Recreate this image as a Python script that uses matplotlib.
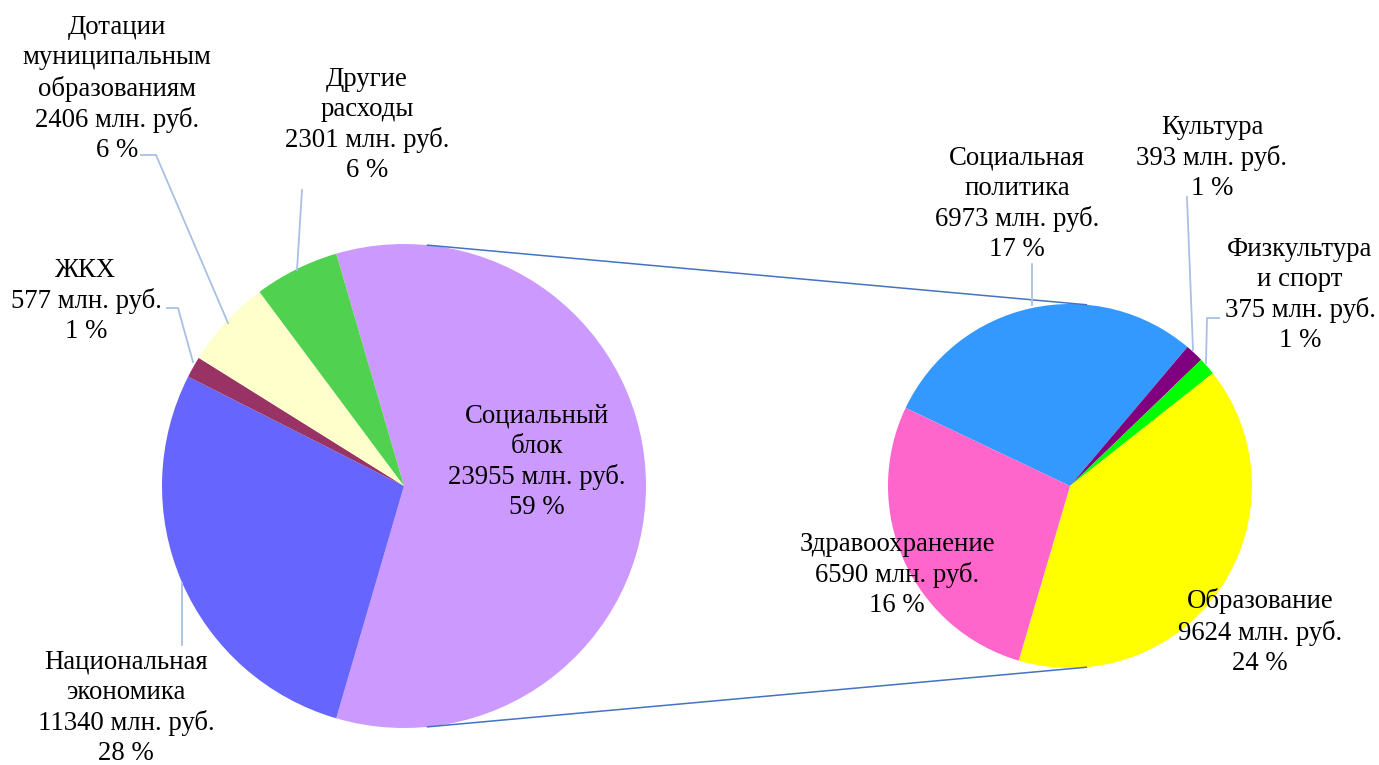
import numpy as np
import matplotlib
matplotlib.use("Agg")
from matplotlib import pyplot as plt

# --- data ---------------------------------------------------------------
main_names = ["Социальный\nблок", "Национальная\nэкономика", "ЖКХ",
              "Дотации\nмуниципальным\nобразованиям", "Другие\nрасходы"]
main_values = [23955, 11340, 577, 2406, 2301]
main_colors = ["#CC99FF", "#6666FF", "#993366", "#FFFFCC", "#50D250"]

sub_names = ["Социальная\nполитика", "Культура", "Физкультура\nи спорт",
             "Образование", "Здравоохранение"]
sub_values = [6973, 393, 375, 9624, 6590]
sub_colors = ["#3399FF", "#800080", "#00FF00", "#FFFF00", "#FF66CC"]

W, H = 1379, 765

# layout (pixel coords, y from top)
c1, r1 = (404, 486), 242
c2, r2 = (1070, 486), 182
sub_start = 154.6
conn_angle = np.deg2rad(84.6)

main_label_pos = [(537, 462), (126, 708), (86, 301), (117, 89), (367, 125)]
sub_label_pos = [(1017, 204), (1212, 158), (1300, 295), (1260, 632), (897, 575)]

leaders = [
    [(182, 583), (182, 645)],                      # нац. экономика
    [(167, 308), (178, 308), (193, 362)],          # ЖКХ
    [(141, 155), (156, 155), (228, 323)],          # дотации
    [(302, 190), (297, 270)],                      # другие
    [(1032, 264), (1032, 305)],                    # соц. политика
    [(1187, 197), (1193, 350)],                    # культура
    [(1219, 318), (1207, 318), (1206, 363)],       # физкультура
]


def px(p):
    return (p[0], H - p[1])


plt.rcParams['font.family'] = ['Liberation Serif', 'DejaVu Serif']

fig = plt.figure(figsize=(W / 100, H / 100), dpi=100)
ax = fig.add_axes([0, 0, 1, 1])

total = sum(main_values)
start1 = 180.0 * main_values[0] / total

ax.pie(main_values, colors=main_colors, center=px(c1), radius=r1,
       startangle=start1, counterclock=False, frame=True,
       wedgeprops=dict(linewidth=0))
ax.pie(sub_values, colors=sub_colors, center=px(c2), radius=r2,
       startangle=sub_start, counterclock=False, frame=True,
       wedgeprops=dict(linewidth=0))

# connector lines between the pies
for s in (1, -1):
    a = s * conn_angle
    p1 = (c1[0] + r1 * np.cos(a), H - c1[1] + r1 * np.sin(a))
    p2 = (c2[0] + r2 * np.cos(a), H - c2[1] + r2 * np.sin(a))
    ax.plot([p1[0], p2[0]], [p1[1], p2[1]], color="#4472C4", lw=1.1,
            solid_capstyle="butt")

# leader lines
for path in leaders:
    xs = [p[0] for p in path]
    ys = [H - p[1] for p in path]
    ax.plot(xs, ys, color="#A9C0E4", lw=1.3)


def label(name, val, pos):
    pct = round(100 * val / total)
    txt = f"{name}\n{val} млн. руб.\n{pct} %"
    ax.text(*px(pos), txt, ha="center", va="center", fontsize=19.3,
            linespacing=1.26, color="black")


for n, v, p in zip(main_names, main_values, main_label_pos):
    label(n, v, p)
for n, v, p in zip(sub_names, sub_values, sub_label_pos):
    label(n, v, p)

ax.set_xlim(0, W)
ax.set_ylim(0, H)
ax.set_aspect("equal")
ax.axis("off")

plt.savefig("out.png", dpi=100)
